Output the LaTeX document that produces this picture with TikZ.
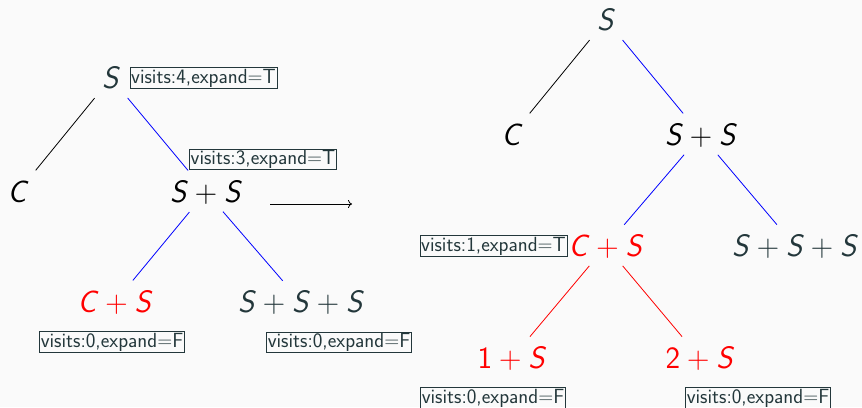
\RequirePackage{fix-cm}
\documentclass[tikz,border=0pt]{standalone}
\usepackage{tikz}
\usetikzlibrary{arrows.meta}
\definecolor{slate}{HTML}{23373B}
\definecolor{bgcol}{HTML}{FAFAFA}
\definecolor{edgeblue}{HTML}{0000FF}
\definecolor{edgered}{HTML}{FF0000}
% sans-serif italic letters for the grammar symbols
\newcommand\sv[1]{\textsf{\textit{#1}}}
\newcommand\sn[1]{\textsf{#1}}
\tikzset{
  sym/.style={inner sep=0pt, font=\fontsize{31}{38}\selectfont},
  info/.style={draw=slate, text=slate, line width=0.8pt, inner sep=1.2pt,
    font=\sffamily\fontsize{20.5}{24}\selectfont},
  edge/.style={line width=0.8pt, shorten <=26pt, shorten >=28pt},
}
\begin{document}
\begin{tikzpicture}[x=1pt,y=-1pt]
\useasboundingbox (0,0) rectangle (862,407);
\fill[bgcol] (0,0) rectangle (862,407);

% left tree
\node[sym, text=slate] (lS) at (111,78) {$\sv{S}$};
\node[sym, text=black] (lC) at (18,192) {$\sv{C}$};
\node[sym, text=black] (lSS) at (206,192) {$\sv{S}+\sv{S}$};
\node[sym, text=red] (lCS) at (115,302) {$\sv{C}+\sv{S}$};
\node[sym, text=slate] (lSSS) at (301,302) {$\sv{S}+\sv{S}+\sv{S}$};

\node[info] (ilS) at (203.5,78) {visits:4,expand=T};
\node[info] (ilSS) at (263,159.5) {visits:3,expand=T};
\node[info] (ilCS) at (112,342) {visits:0,expand=F};
\node[info] (ilSSS) at (339,342.5) {visits:0,expand=F};

\draw[edge, black] (lS.center) -- (lC.center);
\draw[edge, edgeblue] (lS.center) -- (lSS.center);
\draw[edge, edgeblue] (lSS.center) -- (lCS.center);
\draw[edge, edgeblue] (lSS.center) -- (lSSS.center);

% step arrow between the two trees
\coordinate (arrA) at (270,204);
\coordinate (arrB) at (352,204);
\draw[-{To[length=4pt,width=8pt]}, line width=0.8pt] (arrA) -- (arrB);

% right tree
\node[sym, text=slate] (rS) at (606,20) {$\sv{S}$};
\node[sym, text=black] (rC) at (512,135) {$\sv{C}$};
\node[sym, text=black] (rSS) at (701,135) {$\sv{S}+\sv{S}$};
\node[sym, text=red] (rCS) at (606,246) {$\sv{C}+\sv{S}$};
\node[sym, text=slate] (rSSS) at (795,246) {$\sv{S}+\sv{S}+\sv{S}$};
\node[sym, text=red] (r1S) at (512,358) {$\sn{1}+\sv{S}$};
\node[sym, text=red] (r2S) at (700,358) {$\sn{2}+\sv{S}$};

\node[info] (irCS) at (493.5,246) {visits:1,expand=T};
\node[info] (ir1S) at (493,398) {visits:0,expand=F};
\node[info] (ir2S) at (758,398) {visits:0,expand=F};

\draw[edge, black] (rS.center) -- (rC.center);
\draw[edge, edgeblue] (rS.center) -- (rSS.center);
\draw[edge, edgeblue] (rSS.center) -- (rCS.center);
\draw[edge, edgeblue] (rSS.center) -- (rSSS.center);
\draw[edge, edgered] (rCS.center) -- (r1S.center);
\draw[edge, edgered] (rCS.center) -- (r2S.center);
\end{tikzpicture}
\end{document}
